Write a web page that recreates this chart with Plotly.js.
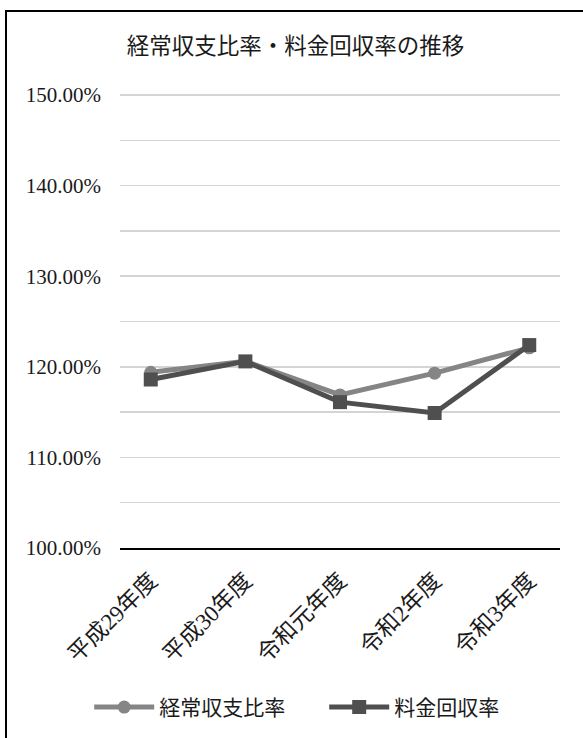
<!DOCTYPE html>
<html>
<head>
<meta charset="utf-8">
<script src="https://cdn.plot.ly/plotly-3.0.1.min.js"></script>
<style>
  html, body { margin: 0; padding: 0; background: #ffffff; overflow: hidden; }
  #frame { position: absolute; left: 5px; top: 10px; width: 700px; height: 900px;
           border-left: 2px solid #000; border-top: 2px solid #000; box-sizing: border-box; }
  #chart { position: absolute; left: 0; top: 0; width: 583px; height: 738px; }
</style>
</head>
<body>
<div id="frame"></div>
<div id="chart"></div>
<script>
const categories = ['平成29年度', '平成30年度', '令和元年度', '令和2年度', '令和3年度'];
const seriesNames = ['経常収支比率', '料金回収率'];
const keijoShushiHiritsu = [119.4, 120.6, 116.9, 119.3, 122.1];
const ryokinKaishuRitsu  = [118.6, 120.6, 116.1, 114.9, 122.4];

const FONT = "'Liberation Serif', 'Noto Sans CJK JP', serif";

const traces = [
  {
    x: categories, y: keijoShushiHiritsu, name: seriesNames[0],
    type: 'scatter', mode: 'lines+markers',
    line: { color: '#858585', width: 5 },
    marker: { symbol: 'circle', size: 13, color: '#858585' }
  },
  {
    x: categories, y: ryokinKaishuRitsu, name: seriesNames[1],
    type: 'scatter', mode: 'lines+markers',
    line: { color: '#4f4f4f', width: 5 },
    marker: { symbol: 'square', size: 14, color: '#4f4f4f' }
  }
];

const layout = {
  width: 583, height: 738,
  paper_bgcolor: 'rgba(0,0,0,0)', plot_bgcolor: 'rgba(0,0,0,0)',
  margin: { l: 120, r: 23, t: 86, b: 190, pad: 0, autoexpand: false },
  font: { family: FONT, size: 20, color: '#1a1a1a' },
  title: {
    text: '経常収支比率・料金回収率の推移',
    font: { family: FONT, size: 22.5, color: '#1a1a1a' },
    x: 0.507, xref: 'container', xanchor: 'center',
    y: 0.937, yref: 'container', yanchor: 'middle'
  },
  xaxis: {
    type: 'category',
    tickangle: -45,
    tickfont: { family: FONT, size: 23, color: '#1a1a1a' },
    showgrid: false, zeroline: false,
    showline: true, linecolor: '#000000', linewidth: 2,
    ticks: '', ticklabelstandoff: 8,
    fixedrange: true
  },
  yaxis: {
    range: [100, 151], dtick: 10, tick0: 100,
    tickformat: '.2f', ticksuffix: '%',
    tickfont: { family: FONT, size: 21, color: '#1a1a1a' },
    showgrid: true, gridcolor: '#d4d4d4', gridwidth: 1.5,
    minor: { dtick: 5, showgrid: true, gridcolor: '#d4d4d4', gridwidth: 1.5 },
    zeroline: false, showline: false,
    ticks: '', ticklabelstandoff: 18,
    fixedrange: true
  },
  showlegend: true,
  legend: {
    orientation: 'h',
    x: -0.07, xanchor: 'left',
    y: -0.345, yanchor: 'middle',
    font: { family: FONT, size: 21, color: '#1a1a1a' },
    entrywidth: 160, entrywidthmode: 'pixels',
    itemwidth: 60,
    bgcolor: 'rgba(0,0,0,0)'
  }
};

Plotly.newPlot('chart', traces, layout, { displayModeBar: false, staticPlot: true });
</script>
</body>
</html>
